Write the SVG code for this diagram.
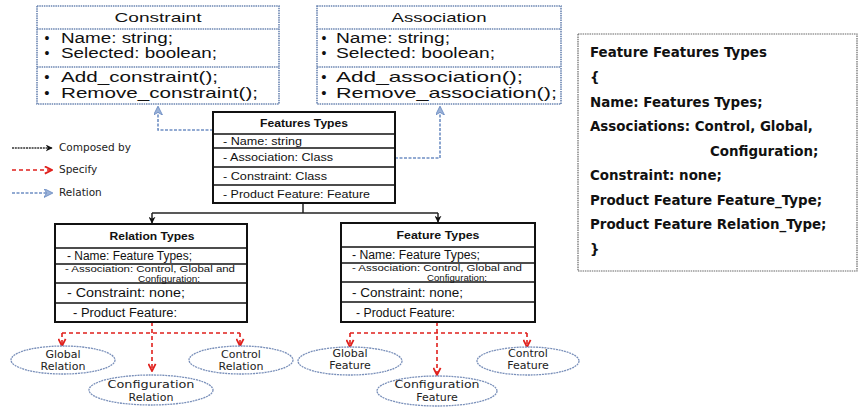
<svg xmlns="http://www.w3.org/2000/svg" width="859" height="407" viewBox="0 0 859 407">
<style>
.bg{fill:#ffffff}
.cls{fill:#fff;stroke:#6c86b2;stroke-width:1.6;stroke-dasharray:1.5 0.8}
.sep{stroke:#6c86b2;stroke-width:1.3;stroke-dasharray:1.5 0.8}
.ft{fill:#fff;stroke:#111;stroke-width:2}
.fsep{stroke:#111;stroke-width:1.6}
.t1{font-family:"Liberation Sans",Arial,sans-serif;fill:#111}
.bt{font-family:"Liberation Sans",Arial,sans-serif;font-weight:bold;fill:#111}
.dv{font-family:"DejaVu Sans",Verdana,sans-serif;fill:#222}
.el{font-family:"DejaVu Sans",Verdana,sans-serif;fill:#222;font-size:11px;text-anchor:middle}
.rb{font-family:"DejaVu Sans",Verdana,sans-serif;font-weight:bold;font-size:13.4px;fill:#111}
.ell{fill:#fff;stroke:#7a90ba;stroke-width:1.3;stroke-dasharray:2 0.8}
.blk{fill:none;stroke:#222;stroke-width:1.5}
.red{fill:none;stroke:#e0201c;stroke-width:1.6;stroke-dasharray:4 3}
.blu{fill:none;stroke:#6f8fc4;stroke-width:1.6;stroke-dasharray:3 1.5}
</style>
<defs>
<marker id="mBlk" viewBox="0 0 10 10" refX="9" refY="5" markerWidth="7" markerHeight="7" orient="auto-start-reverse" markerUnits="userSpaceOnUse">
<path d="M0,0 L10,5 L0,10 L3,5 z" fill="#111"/>
</marker>
<marker id="mBlu" viewBox="0 0 10 10" refX="9" refY="5" markerWidth="9" markerHeight="9" orient="auto-start-reverse" markerUnits="userSpaceOnUse">
<path d="M0,0 L10,5 L0,10 L3,5 z" fill="#9bb2d8" stroke="#6f8fc4" stroke-width="1"/>
</marker>
<marker id="mRed" viewBox="0 0 10 10" refX="9" refY="5" markerWidth="9" markerHeight="9" orient="auto-start-reverse" markerUnits="userSpaceOnUse">
<path d="M1,1 L9,5 L1,9" fill="none" stroke="#e0201c" stroke-width="2"/>
</marker>
</defs>
<rect class="bg" x="0" y="0" width="859" height="407"/>

<g id="connectors">
<polyline class="blu" points="213,130 158,130 158,107" marker-end="url(#mBlu)"/>
<polyline class="blu" points="395,158 440,158 440,107" marker-end="url(#mBlu)"/>
<polyline class="blk" points="303,203 303,213"/>
<polyline class="blk" points="152,213 438,213"/>
<line class="blk" x1="152" y1="213" x2="152" y2="223" marker-end="url(#mBlk)"/>
<line class="blk" x1="438" y1="213" x2="438" y2="222" marker-end="url(#mBlk)"/>
<line class="red" x1="152" y1="322" x2="152" y2="371" marker-end="url(#mRed)"/>
<line class="red" x1="62" y1="333" x2="240" y2="333"/>
<line class="red" x1="62" y1="333" x2="62" y2="346" marker-end="url(#mRed)"/>
<line class="red" x1="240" y1="333" x2="240" y2="346" marker-end="url(#mRed)"/>
<line class="red" x1="437" y1="322" x2="437" y2="375" marker-end="url(#mRed)"/>
<line class="red" x1="350" y1="333" x2="527" y2="333"/>
<line class="red" x1="350" y1="333" x2="350" y2="347" marker-end="url(#mRed)"/>
<line class="red" x1="527" y1="333" x2="527" y2="347" marker-end="url(#mRed)"/>
</g>

<g id="legend">
<line x1="12" y1="148" x2="52" y2="148" stroke="#333" stroke-width="1.5" stroke-dasharray="2 0.8" marker-end="url(#mBlk)"/>
<text class="dv" x="59" y="151" font-size="10.5">Composed by</text>
<line x1="12" y1="170" x2="52" y2="170" stroke="#e0201c" stroke-width="1.6" stroke-dasharray="4 3" marker-end="url(#mRed)"/>
<text class="dv" x="59" y="173" font-size="10.5">Specify</text>
<line x1="12" y1="193" x2="52" y2="193" stroke="#6f8fc4" stroke-width="1.6" stroke-dasharray="3 1.5" marker-end="url(#mBlu)"/>
<text class="dv" x="59" y="196" font-size="10.5">Relation</text>
</g>

<g id="constraint">
<rect class="cls" x="37" y="6" width="242" height="98"/>
<line class="sep" x1="37" y1="29" x2="279" y2="29"/>
<line class="sep" x1="37" y1="67" x2="279" y2="67"/>
<text class="t1" x="158" y="22" font-size="13" text-anchor="middle" textLength="87" lengthAdjust="spacingAndGlyphs">Constraint</text>
<text class="t1" x="47" y="43" font-size="14" text-anchor="middle">•</text>
<text class="t1" x="61" y="43" font-size="14" textLength="112" lengthAdjust="spacingAndGlyphs">Name: string;</text>
<text class="t1" x="47" y="58" font-size="14" text-anchor="middle">•</text>
<text class="t1" x="61" y="58" font-size="14" textLength="156" lengthAdjust="spacingAndGlyphs">Selected: boolean;</text>
<text class="t1" x="47" y="82" font-size="15" text-anchor="middle">•</text>
<text class="t1" x="61" y="82" font-size="15" textLength="157" lengthAdjust="spacingAndGlyphs">Add_constraint();</text>
<text class="t1" x="47" y="98" font-size="15" text-anchor="middle">•</text>
<text class="t1" x="61" y="98" font-size="15" textLength="197" lengthAdjust="spacingAndGlyphs">Remove_constraint();</text>
</g>

<g id="association">
<rect class="cls" x="317" y="6" width="244" height="98"/>
<line class="sep" x1="317" y1="29" x2="561" y2="29"/>
<line class="sep" x1="317" y1="67" x2="561" y2="67"/>
<text class="t1" x="439" y="22" font-size="13" text-anchor="middle" textLength="95" lengthAdjust="spacingAndGlyphs">Association</text>
<text class="t1" x="324" y="43" font-size="14" text-anchor="middle">•</text>
<text class="t1" x="336" y="43" font-size="14" textLength="114" lengthAdjust="spacingAndGlyphs">Name: string;</text>
<text class="t1" x="324" y="58" font-size="14" text-anchor="middle">•</text>
<text class="t1" x="336" y="58" font-size="14" textLength="159" lengthAdjust="spacingAndGlyphs">Selected: boolean;</text>
<text class="t1" x="324" y="82" font-size="15" text-anchor="middle">•</text>
<text class="t1" x="336" y="82" font-size="15" textLength="187" lengthAdjust="spacingAndGlyphs">Add_association();</text>
<text class="t1" x="324" y="98" font-size="15" text-anchor="middle">•</text>
<text class="t1" x="336" y="98" font-size="15" textLength="221" lengthAdjust="spacingAndGlyphs">Remove_association();</text>
</g>

<g id="features-types">
<rect class="ft" x="213" y="112" width="182" height="91"/>
<line class="fsep" x1="213" y1="134" x2="395" y2="134"/>
<line class="fsep" x1="213" y1="148" x2="395" y2="148"/>
<line class="fsep" x1="213" y1="167" x2="395" y2="167"/>
<line class="fsep" x1="213" y1="185" x2="395" y2="185"/>
<text class="bt" x="304" y="127" font-size="11" text-anchor="middle" textLength="88" lengthAdjust="spacingAndGlyphs">Features Types</text>
<text class="t1" x="223" y="145" font-size="11" textLength="79" lengthAdjust="spacingAndGlyphs">- Name: string</text>
<text class="t1" x="223" y="161" font-size="11" textLength="110" lengthAdjust="spacingAndGlyphs">- Association: Class</text>
<text class="t1" x="223" y="180" font-size="11" textLength="104" lengthAdjust="spacingAndGlyphs">- Constraint: Class</text>
<text class="t1" x="223" y="198" font-size="11" textLength="147" lengthAdjust="spacingAndGlyphs">- Product Feature: Feature</text>
</g>

<g id="relation-types">
<rect class="ft" x="55" y="224" width="192" height="98"/>
<line class="fsep" x1="55" y1="248" x2="247" y2="248"/>
<line class="fsep" x1="55" y1="264" x2="247" y2="264"/>
<line class="fsep" x1="55" y1="283" x2="247" y2="283"/>
<line class="fsep" x1="55" y1="303" x2="247" y2="303"/>
<text class="bt" x="152" y="240" font-size="11" text-anchor="middle" textLength="85" lengthAdjust="spacingAndGlyphs">Relation Types</text>
<text class="t1" x="67" y="260" font-size="12" textLength="125" lengthAdjust="spacingAndGlyphs">- Name: Feature Types;</text>
<text class="t1" x="65" y="272" font-size="8.6" textLength="170" lengthAdjust="spacingAndGlyphs">- Association: Control, Global and</text>
<text class="t1" x="138" y="281.5" font-size="8.6" textLength="62" lengthAdjust="spacingAndGlyphs">Configuration:</text>
<text class="t1" x="67" y="297" font-size="12" textLength="118" lengthAdjust="spacingAndGlyphs">- Constraint: none;</text>
<text class="t1" x="73" y="317" font-size="12" textLength="104" lengthAdjust="spacingAndGlyphs">- Product Feature:</text>
</g>

<g id="feature-types">
<rect class="ft" x="341" y="223" width="194" height="99"/>
<line class="fsep" x1="341" y1="247" x2="535" y2="247"/>
<line class="fsep" x1="341" y1="263" x2="535" y2="263"/>
<line class="fsep" x1="341" y1="282" x2="535" y2="282"/>
<line class="fsep" x1="341" y1="302" x2="535" y2="302"/>
<text class="bt" x="438" y="239" font-size="11" text-anchor="middle" textLength="83" lengthAdjust="spacingAndGlyphs">Feature Types</text>
<text class="t1" x="352" y="259" font-size="12" textLength="128" lengthAdjust="spacingAndGlyphs">- Name: Feature Types;</text>
<text class="t1" x="352" y="271" font-size="8.6" textLength="170" lengthAdjust="spacingAndGlyphs">- Association: Control, Global and</text>
<text class="t1" x="427" y="280.5" font-size="8.6" textLength="60" lengthAdjust="spacingAndGlyphs">Configuration:</text>
<text class="t1" x="352" y="297" font-size="12" textLength="111" lengthAdjust="spacingAndGlyphs">- Constraint: none;</text>
<text class="t1" x="356" y="317" font-size="12" textLength="99" lengthAdjust="spacingAndGlyphs">- Product Feature:</text>
</g>

<g id="global-relation">
<ellipse class="ell" cx="63" cy="360" rx="52" ry="14"/>
<text class="el" x="63" y="358">Global</text>
<text class="el" x="63" y="370">Relation</text>
</g>
<g id="control-relation">
<ellipse class="ell" cx="241" cy="360" rx="52" ry="14"/>
<text class="el" x="241" y="358">Control</text>
<text class="el" x="241" y="370">Relation</text>
</g>
<g id="configuration-relation">
<ellipse class="ell" cx="151" cy="390" rx="62" ry="15"/>
<text class="el" x="151" y="388" textLength="87" lengthAdjust="spacingAndGlyphs">Configuration</text>
<text class="el" x="151" y="401">Relation</text>
</g>
<g id="global-feature">
<ellipse class="ell" cx="350" cy="361" rx="52" ry="14"/>
<text class="el" x="350" y="357">Global</text>
<text class="el" x="350" y="369">Feature</text>
</g>
<g id="control-feature">
<ellipse class="ell" cx="528" cy="361" rx="51" ry="14"/>
<text class="el" x="528" y="357">Control</text>
<text class="el" x="528" y="369">Feature</text>
</g>
<g id="configuration-feature">
<ellipse class="ell" cx="437" cy="391" rx="60" ry="15"/>
<text class="el" x="437" y="388" textLength="85" lengthAdjust="spacingAndGlyphs">Configuration</text>
<text class="el" x="437" y="401">Feature</text>
</g>

<g id="definition-box">
<rect x="578" y="34" width="279" height="237" fill="#fff" stroke="#666" stroke-width="1.2" stroke-dasharray="1.5 0.8"/>
<text class="rb" x="590" y="57">Feature Features Types</text>
<text class="rb" x="590" y="82">{</text>
<text class="rb" x="590" y="107">Name: Features Types;</text>
<text class="rb" x="590" y="131">Associations: Control, Global,</text>
<text class="rb" x="710" y="156">Configuration;</text>
<text class="rb" x="590" y="180">Constraint: none;</text>
<text class="rb" x="590" y="205">Product Feature Feature_Type;</text>
<text class="rb" x="590" y="229">Product Feature Relation_Type;</text>
<text class="rb" x="590" y="254">}</text>
</g>
</svg>
